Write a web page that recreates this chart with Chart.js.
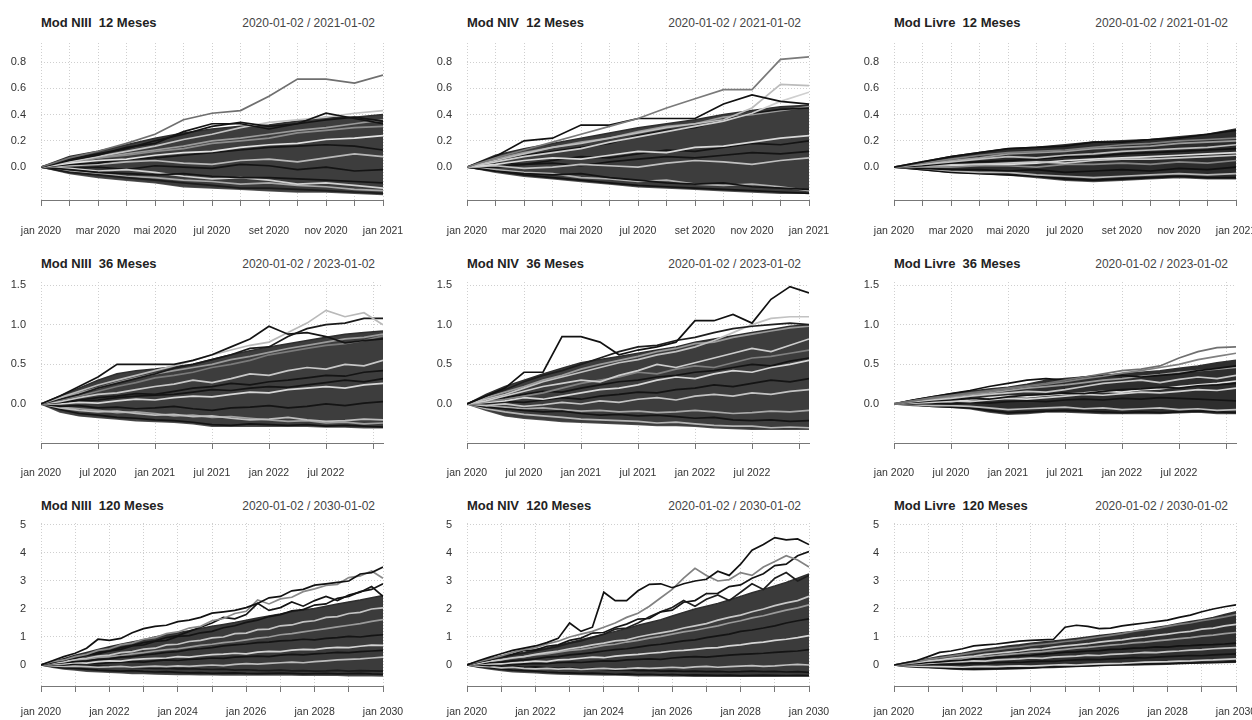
<!DOCTYPE html>
<html lang="pt">
<head>
<meta charset="utf-8">
<title>Simulações</title>
<script src="https://cdn.jsdelivr.net/npm/chart.js@4/dist/chart.umd.min.js"></script>
<style>
  html, body { margin: 0; padding: 0; background: #fff; overflow: hidden; }
  body { width: 1252px; height: 720px; position: relative; font-family: "Liberation Sans", Arial, sans-serif; }
  .panel-title { position: absolute; font-weight: bold; font-size: 13px; color: #222; line-height: 16px; white-space: pre; }
  .panel-range { position: absolute; font-size: 12px; color: #444; line-height: 16px; text-align: right; white-space: pre; }
  canvas { position: absolute; }
</style>
</head>
<body>
<script>
// x positions (months since jan 2020) and axis ticks
const months12 = [0, 1, 2, 3, 4, 5, 6, 7, 8, 9, 10, 11, 12];
const months36 = [0, 2, 4, 6, 8, 10, 12, 14, 16, 18, 20, 22, 24, 26, 28, 30, 32, 34, 36];
const months120 = [0, 4, 8, 12, 16, 20, 24, 28, 32, 36, 40, 44, 48, 52, 56, 60, 64, 68, 72, 76, 80, 84, 88, 92, 96, 100, 104, 108, 112, 116, 120];

const xTicks12 = [0, 1, 2, 3, 4, 5, 6, 7, 8, 9, 10, 11, 12];
const xLabels12 = ['jan 2020', '', 'mar 2020', '', 'mai 2020', '', 'jul 2020', '', 'set 2020', '', 'nov 2020', '', 'jan 2021'];
const xTicks36 = [0, 6, 12, 18, 24, 30, 35];
const xLabels36 = ['jan 2020', 'jul 2020', 'jan 2021', 'jul 2021', 'jan 2022', 'jul 2022', ''];
const xTicks120 = [0, 12, 24, 36, 48, 60, 72, 84, 96, 108, 120];
const xLabels120 = ['jan 2020', '', 'jan 2022', '', 'jan 2024', '', 'jan 2026', '', 'jan 2028', '', 'jan 2030'];

const yTicks12 = [0, 0.2, 0.4, 0.6, 0.8];
const yTicks36 = [0, 0.5, 1, 1.5];
const yTicks120 = [0, 1, 2, 3, 4, 5];

// ---- 12 meses ----
const niii12Hi = [0, 0.08, 0.12, 0.17, 0.22, 0.26, 0.29, 0.31, 0.32, 0.35, 0.38, 0.38, 0.40];
const niii12Lo = [0, -0.05, -0.08, -0.10, -0.12, -0.15, -0.16, -0.17, -0.18, -0.19, -0.19, -0.20, -0.21];
const niii12Paths = [
  [0, 0.07, 0.12, 0.18, 0.25, 0.36, 0.41, 0.43, 0.54, 0.67, 0.67, 0.64, 0.70],
  [0, 0.06, 0.10, 0.14, 0.20, 0.25, 0.31, 0.34, 0.31, 0.33, 0.41, 0.37, 0.33],
  [0, 0.05, 0.09, 0.15, 0.18, 0.27, 0.33, 0.33, 0.29, 0.33, 0.36, 0.38, 0.35],
  [0, 0.04, 0.08, 0.12, 0.16, 0.21, 0.25, 0.30, 0.34, 0.36, 0.38, 0.41, 0.43],
  [0, 0.03, 0.05, 0.06, 0.09, 0.11, 0.12, 0.15, 0.17, 0.18, 0.21, 0.22, 0.24],
  [0, 0.02, 0.03, 0.06, 0.07, 0.09, 0.11, 0.13, 0.15, 0.16, 0.17, 0.16, 0.13],
  [0, 0.01, 0.02, 0.04, 0.05, 0.03, 0.02, 0.05, 0.06, 0.04, 0.07, 0.10, 0.08],
  [0, -0.02, -0.04, -0.05, -0.06, -0.05, -0.07, -0.08, -0.08, -0.09, -0.10, -0.11, -0.12],
  [0, -0.01, -0.03, -0.02, -0.04, -0.07, -0.09, -0.08, -0.10, -0.13, -0.12, -0.14, -0.16],
  [0, -0.04, -0.06, -0.08, -0.10, -0.12, -0.14, -0.16, -0.16, -0.17, -0.18, -0.19, -0.20],
  [0, 0.03, 0.07, 0.09, 0.12, 0.14, 0.18, 0.20, 0.22, 0.26, 0.28, 0.30, 0.31],
  [0, 0.04, 0.07, 0.10, 0.13, 0.16, 0.20, 0.22, 0.25, 0.28, 0.30, 0.33, 0.36],
  [0, -0.01, 0.00, -0.02, 0.01, 0.00, -0.01, 0.02, 0.01, -0.02, 0.00, -0.03, -0.02],
  [0, -0.03, -0.05, -0.07, -0.08, -0.10, -0.11, -0.13, -0.12, -0.14, -0.15, -0.17, -0.18]
];

const niv12Hi = [0, 0.09, 0.14, 0.18, 0.22, 0.26, 0.30, 0.33, 0.36, 0.40, 0.43, 0.46, 0.47];
const niv12Lo = [0, -0.04, -0.07, -0.09, -0.11, -0.13, -0.15, -0.16, -0.17, -0.18, -0.19, -0.20, -0.20];
const niv12Paths = [
  [0, 0.07, 0.13, 0.19, 0.25, 0.31, 0.37, 0.45, 0.52, 0.59, 0.59, 0.82, 0.84],
  [0, 0.08, 0.20, 0.22, 0.32, 0.32, 0.37, 0.37, 0.37, 0.48, 0.55, 0.50, 0.48],
  [0, 0.05, 0.10, 0.15, 0.18, 0.22, 0.26, 0.30, 0.33, 0.36, 0.45, 0.63, 0.62],
  [0, 0.04, 0.08, 0.11, 0.14, 0.19, 0.23, 0.27, 0.31, 0.35, 0.41, 0.50, 0.57],
  [0, 0.05, 0.09, 0.12, 0.15, 0.18, 0.24, 0.28, 0.30, 0.36, 0.41, 0.44, 0.45],
  [0, 0.02, 0.05, 0.07, 0.06, 0.09, 0.12, 0.11, 0.15, 0.16, 0.19, 0.22, 0.24],
  [0, 0.03, 0.02, 0.05, 0.08, 0.07, 0.10, 0.13, 0.12, 0.15, 0.18, 0.17, 0.20],
  [0, 0.01, -0.01, 0.00, 0.02, 0.01, 0.00, 0.03, 0.05, 0.04, 0.02, 0.05, 0.07],
  [0, -0.03, -0.05, -0.06, -0.05, -0.08, -0.10, -0.12, -0.13, -0.12, -0.15, -0.16, -0.17],
  [0, -0.02, -0.04, -0.05, -0.08, -0.09, -0.11, -0.10, -0.13, -0.14, -0.13, -0.15, -0.18],
  [0, 0.06, 0.11, 0.15, 0.19, 0.22, 0.27, 0.31, 0.33, 0.38, 0.40, 0.43, 0.46],
  [0, 0.00, 0.02, 0.03, 0.01, 0.04, 0.06, 0.08, 0.07, 0.09, 0.11, 0.10, 0.12],
  [0, -0.03, -0.06, -0.08, -0.10, -0.12, -0.14, -0.15, -0.16, -0.17, -0.18, -0.19, -0.20]
];

const livre12Hi = [0, 0.04, 0.08, 0.11, 0.14, 0.15, 0.17, 0.19, 0.20, 0.21, 0.23, 0.25, 0.29];
const livre12Lo = [0, -0.02, -0.04, -0.05, -0.06, -0.08, -0.10, -0.11, -0.10, -0.09, -0.08, -0.09, -0.09];
const livre12Paths = [
  [0, 0.04, 0.08, 0.11, 0.14, 0.15, 0.16, 0.19, 0.19, 0.21, 0.22, 0.25, 0.28],
  [0, 0.03, 0.06, 0.09, 0.11, 0.12, 0.13, 0.15, 0.17, 0.18, 0.20, 0.21, 0.22],
  [0, 0.02, 0.04, 0.06, 0.08, 0.07, 0.09, 0.10, 0.12, 0.13, 0.14, 0.15, 0.17],
  [0, 0.01, 0.03, 0.04, 0.05, 0.06, 0.08, 0.08, 0.10, 0.11, 0.12, 0.13, 0.14],
  [0, 0.01, 0.02, 0.02, 0.03, 0.04, 0.03, 0.05, 0.06, 0.06, 0.07, 0.08, 0.09],
  [0, 0.00, 0.00, 0.01, 0.01, 0.00, 0.02, 0.02, 0.03, 0.02, 0.04, 0.03, 0.05],
  [0, -0.01, -0.02, -0.02, -0.03, -0.02, -0.04, -0.03, -0.02, -0.03, -0.01, -0.02, 0.00],
  [0, -0.01, -0.03, -0.04, -0.04, -0.06, -0.07, -0.08, -0.07, -0.06, -0.05, -0.06, -0.05],
  [0, -0.02, -0.04, -0.05, -0.06, -0.07, -0.09, -0.10, -0.09, -0.08, -0.07, -0.08, -0.08],
  [0, 0.02, 0.05, 0.07, 0.10, 0.11, 0.12, 0.14, 0.15, 0.16, 0.18, 0.19, 0.20],
  [0, 0.00, 0.01, 0.02, 0.02, 0.03, 0.05, 0.06, 0.07, 0.08, 0.09, 0.10, 0.11]
];

// ---- 36 meses ----
const niii36Hi = [0, 0.10, 0.20, 0.30, 0.38, 0.42, 0.44, 0.47, 0.50, 0.56, 0.62, 0.67, 0.72, 0.76, 0.80, 0.84, 0.88, 0.90, 0.92];
const niii36Lo = [0, -0.10, -0.15, -0.17, -0.19, -0.21, -0.22, -0.23, -0.25, -0.28, -0.28, -0.28, -0.28, -0.28, -0.28, -0.29, -0.29, -0.30, -0.30];
const niii36Paths = [
  [0, 0.10, 0.22, 0.34, 0.50, 0.50, 0.50, 0.50, 0.55, 0.62, 0.72, 0.82, 0.98, 0.88, 0.90, 0.85, 0.77, 0.80, 0.82],
  [0, 0.08, 0.16, 0.24, 0.30, 0.36, 0.42, 0.48, 0.55, 0.62, 0.68, 0.74, 0.78, 0.90, 1.02, 1.18, 1.10, 1.15, 1.00],
  [0, 0.06, 0.12, 0.20, 0.26, 0.32, 0.38, 0.45, 0.50, 0.56, 0.62, 0.70, 0.72, 0.85, 0.95, 1.00, 1.02, 1.08, 1.08],
  [0, 0.05, 0.10, 0.16, 0.22, 0.27, 0.33, 0.36, 0.40, 0.46, 0.50, 0.55, 0.62, 0.66, 0.70, 0.74, 0.76, 0.80, 0.86],
  [0, 0.03, 0.08, 0.12, 0.14, 0.18, 0.22, 0.25, 0.30, 0.27, 0.32, 0.38, 0.36, 0.42, 0.46, 0.44, 0.50, 0.48, 0.55],
  [0, 0.02, 0.05, 0.08, 0.10, 0.13, 0.12, 0.16, 0.20, 0.22, 0.26, 0.24, 0.28, 0.30, 0.33, 0.36, 0.35, 0.40, 0.42],
  [0, 0.00, 0.02, 0.01, 0.04, 0.06, 0.05, 0.08, 0.10, 0.09, 0.12, 0.15, 0.14, 0.18, 0.20, 0.22, 0.20, 0.24, 0.26],
  [0, -0.03, -0.02, -0.05, -0.04, -0.06, -0.05, -0.03, -0.06, -0.08, -0.05, -0.04, -0.02, -0.05, -0.03, 0.00, -0.02, 0.01, 0.03],
  [0, -0.05, -0.08, -0.10, -0.09, -0.12, -0.14, -0.13, -0.16, -0.15, -0.18, -0.20, -0.19, -0.17, -0.20, -0.22, -0.21, -0.19, -0.20],
  [0, -0.07, -0.12, -0.14, -0.17, -0.18, -0.20, -0.21, -0.23, -0.26, -0.27, -0.25, -0.26, -0.27, -0.26, -0.28, -0.27, -0.28, -0.29],
  [0, 0.07, 0.14, 0.20, 0.27, 0.33, 0.38, 0.42, 0.46, 0.50, 0.56, 0.60, 0.65, 0.70, 0.74, 0.78, 0.82, 0.84, 0.88],
  [0, 0.01, 0.04, 0.05, 0.08, 0.10, 0.11, 0.12, 0.15, 0.18, 0.17, 0.20, 0.22, 0.21, 0.24, 0.27, 0.30, 0.28, 0.32],
  [0, -0.04, -0.06, -0.08, -0.11, -0.10, -0.12, -0.15, -0.14, -0.17, -0.16, -0.18, -0.20, -0.22, -0.21, -0.24, -0.23, -0.25, -0.24]
];

const niv36Hi = [0, 0.12, 0.22, 0.30, 0.38, 0.45, 0.52, 0.56, 0.60, 0.64, 0.68, 0.72, 0.78, 0.82, 0.86, 0.90, 0.94, 0.98, 1.00];
const niv36Lo = [0, -0.08, -0.15, -0.18, -0.20, -0.22, -0.23, -0.24, -0.25, -0.26, -0.27, -0.27, -0.28, -0.30, -0.31, -0.32, -0.32, -0.32, -0.32];
const niv36Paths = [
  [0, 0.10, 0.20, 0.40, 0.40, 0.85, 0.85, 0.78, 0.62, 0.68, 0.72, 0.78, 1.05, 1.05, 1.13, 1.02, 1.32, 1.48, 1.40],
  [0, 0.10, 0.18, 0.28, 0.36, 0.42, 0.50, 0.58, 0.66, 0.72, 0.74, 0.80, 0.84, 0.90, 0.95, 0.98, 1.00, 1.02, 1.00],
  [0, 0.06, 0.12, 0.20, 0.28, 0.34, 0.40, 0.46, 0.52, 0.56, 0.62, 0.66, 0.72, 0.80, 0.90, 1.00, 1.08, 1.10, 1.10],
  [0, 0.04, 0.10, 0.16, 0.22, 0.26, 0.30, 0.28, 0.36, 0.42, 0.50, 0.46, 0.52, 0.58, 0.64, 0.70, 0.66, 0.74, 0.82],
  [0, 0.03, 0.06, 0.10, 0.14, 0.20, 0.26, 0.30, 0.34, 0.40, 0.38, 0.44, 0.48, 0.46, 0.52, 0.58, 0.60, 0.64, 0.68],
  [0, 0.02, 0.04, 0.08, 0.06, 0.10, 0.14, 0.18, 0.20, 0.24, 0.30, 0.34, 0.32, 0.38, 0.42, 0.40, 0.46, 0.50, 0.55],
  [0, 0.01, 0.03, 0.02, 0.05, 0.08, 0.06, 0.10, 0.12, 0.15, 0.14, 0.18, 0.20, 0.24, 0.22, 0.26, 0.30, 0.28, 0.32],
  [0, -0.02, 0.00, -0.03, -0.01, 0.02, 0.00, 0.04, 0.02, 0.06, 0.08, 0.05, 0.10, 0.12, 0.10, 0.14, 0.12, 0.16, 0.18],
  [0, -0.04, -0.06, -0.08, -0.10, -0.09, -0.12, -0.14, -0.13, -0.15, -0.14, -0.16, -0.18, -0.17, -0.20, -0.21, -0.20, -0.22, -0.21],
  [0, -0.06, -0.10, -0.13, -0.15, -0.17, -0.19, -0.20, -0.21, -0.22, -0.24, -0.23, -0.25, -0.27, -0.28, -0.28, -0.30, -0.29, -0.30],
  [0, 0.08, 0.15, 0.22, 0.30, 0.36, 0.44, 0.50, 0.55, 0.60, 0.66, 0.70, 0.76, 0.78, 0.84, 0.88, 0.92, 0.96, 0.98],
  [0, 0.04, 0.08, 0.12, 0.16, 0.15, 0.20, 0.24, 0.28, 0.30, 0.34, 0.36, 0.40, 0.42, 0.46, 0.50, 0.48, 0.54, 0.58],
  [0, -0.03, -0.04, -0.06, -0.05, -0.07, -0.09, -0.08, -0.10, -0.09, -0.11, -0.10, -0.08, -0.10, -0.12, -0.11, -0.09, -0.10, -0.08]
];

const livre36Hi = [0, 0.05, 0.09, 0.13, 0.16, 0.19, 0.21, 0.25, 0.30, 0.32, 0.34, 0.36, 0.38, 0.40, 0.42, 0.45, 0.48, 0.52, 0.55];
const livre36Lo = [0, -0.02, -0.03, -0.04, -0.06, -0.10, -0.13, -0.12, -0.10, -0.10, -0.11, -0.12, -0.12, -0.12, -0.12, -0.11, -0.10, -0.12, -0.12];
const livre36Paths = [
  [0, 0.04, 0.08, 0.11, 0.14, 0.17, 0.20, 0.23, 0.26, 0.30, 0.34, 0.38, 0.42, 0.44, 0.48, 0.58, 0.66, 0.71, 0.72],
  [0, 0.04, 0.07, 0.10, 0.13, 0.16, 0.19, 0.22, 0.25, 0.28, 0.32, 0.35, 0.39, 0.42, 0.46, 0.50, 0.56, 0.60, 0.64],
  [0, 0.05, 0.09, 0.13, 0.17, 0.22, 0.26, 0.30, 0.32, 0.30, 0.34, 0.36, 0.36, 0.34, 0.36, 0.38, 0.42, 0.45, 0.48],
  [0, 0.03, 0.05, 0.07, 0.10, 0.12, 0.14, 0.16, 0.15, 0.18, 0.22, 0.26, 0.28, 0.30, 0.27, 0.31, 0.34, 0.32, 0.36],
  [0, 0.02, 0.04, 0.05, 0.07, 0.06, 0.09, 0.11, 0.12, 0.14, 0.13, 0.16, 0.18, 0.19, 0.21, 0.20, 0.23, 0.24, 0.26],
  [0, 0.01, 0.02, 0.04, 0.03, 0.05, 0.07, 0.06, 0.08, 0.10, 0.12, 0.11, 0.13, 0.15, 0.14, 0.16, 0.18, 0.17, 0.20],
  [0, 0.00, 0.01, 0.00, 0.02, 0.01, 0.03, 0.04, 0.03, 0.05, 0.06, 0.05, 0.07, 0.06, 0.08, 0.07, 0.06, 0.05, 0.04],
  [0, -0.01, -0.02, -0.02, -0.03, -0.05, -0.07, -0.06, -0.05, -0.04, -0.06, -0.05, -0.07, -0.06, -0.05, -0.07, -0.06, -0.08, -0.07],
  [0, -0.01, -0.03, -0.04, -0.05, -0.08, -0.11, -0.10, -0.09, -0.08, -0.09, -0.10, -0.11, -0.10, -0.11, -0.10, -0.09, -0.10, -0.11],
  [0, 0.03, 0.06, 0.09, 0.12, 0.14, 0.17, 0.20, 0.22, 0.24, 0.27, 0.30, 0.32, 0.35, 0.37, 0.40, 0.42, 0.44, 0.46],
  [0, 0.01, 0.03, 0.03, 0.05, 0.08, 0.10, 0.09, 0.11, 0.13, 0.14, 0.16, 0.15, 0.18, 0.19, 0.22, 0.24, 0.26, 0.29]
];

// ---- 120 meses ----
const niii120Hi = [0, 0.12, 0.22, 0.35, 0.45, 0.55, 0.65, 0.74, 0.82, 0.90, 1.00, 1.08, 1.15, 1.22, 1.30, 1.38, 1.45, 1.52, 1.60, 1.68, 1.75, 1.82, 1.90, 1.96, 2.02, 2.10, 2.18, 2.25, 2.32, 2.40, 2.48];
const niii120Lo = [0, -0.08, -0.14, -0.18, -0.22, -0.24, -0.26, -0.28, -0.30, -0.30, -0.32, -0.33, -0.34, -0.34, -0.35, -0.35, -0.36, -0.36, -0.35, -0.36, -0.36, -0.35, -0.36, -0.37, -0.36, -0.37, -0.37, -0.38, -0.38, -0.38, -0.39];
const niii120Paths = [
  [0, 0.15, 0.30, 0.42, 0.60, 0.92, 0.88, 0.95, 1.15, 1.30, 1.38, 1.42, 1.55, 1.60, 1.70, 1.85, 1.90, 1.95, 2.05, 2.20, 2.40, 2.45, 2.65, 2.70, 2.85, 2.90, 2.95, 3.00, 3.25, 3.30, 3.50],
  [0, 0.12, 0.18, 0.30, 0.38, 0.52, 0.58, 0.72, 0.78, 0.92, 0.98, 1.12, 1.18, 1.32, 1.38, 1.58, 1.66, 1.84, 1.92, 2.32, 2.18, 2.36, 2.42, 2.62, 2.72, 2.84, 2.88, 3.12, 3.18, 3.36, 3.10],
  [0, 0.10, 0.16, 0.28, 0.34, 0.45, 0.50, 0.62, 0.70, 0.80, 0.86, 0.98, 1.05, 1.20, 1.35, 1.50, 1.70, 1.65, 1.80, 2.20, 1.95, 2.05, 2.25, 2.10, 2.30, 2.45, 2.30, 2.50, 2.60, 2.80, 2.45],
  [0, 0.08, 0.20, 0.24, 0.36, 0.40, 0.50, 0.56, 0.68, 0.72, 0.84, 0.88, 1.02, 1.05, 1.15, 1.20, 1.33, 1.40, 1.52, 1.60, 1.73, 1.80, 1.93, 1.98, 2.14, 2.18, 2.38, 2.45, 2.62, 2.70, 2.90],
  [0, 0.07, 0.11, 0.20, 0.24, 0.32, 0.35, 0.44, 0.48, 0.57, 0.60, 0.72, 0.74, 0.84, 0.88, 0.97, 1.00, 1.12, 1.14, 1.26, 1.28, 1.40, 1.43, 1.54, 1.58, 1.70, 1.73, 1.84, 1.88, 2.00, 2.04],
  [0, 0.05, 0.08, 0.12, 0.15, 0.20, 0.22, 0.28, 0.30, 0.36, 0.40, 0.45, 0.48, 0.55, 0.58, 0.62, 0.68, 0.72, 0.75, 0.80, 0.82, 0.86, 0.88, 0.92, 0.90, 0.95, 0.98, 1.02, 1.00, 1.05, 1.08],
  [0, 0.03, 0.04, 0.08, 0.07, 0.12, 0.15, 0.14, 0.19, 0.22, 0.24, 0.25, 0.30, 0.28, 0.33, 0.37, 0.39, 0.42, 0.40, 0.46, 0.49, 0.48, 0.53, 0.56, 0.55, 0.60, 0.63, 0.62, 0.67, 0.71, 0.70],
  [0, 0.02, 0.00, 0.04, 0.06, 0.05, 0.08, 0.10, 0.12, 0.10, 0.15, 0.18, 0.16, 0.20, 0.22, 0.25, 0.24, 0.28, 0.30, 0.32, 0.30, 0.35, 0.38, 0.36, 0.40, 0.42, 0.45, 0.44, 0.48, 0.50, 0.52],
  [0, -0.03, -0.05, -0.04, -0.06, -0.08, -0.07, -0.05, -0.08, -0.06, -0.04, -0.06, -0.03, -0.05, -0.02, 0.00, -0.02, 0.02, 0.05, 0.03, 0.06, 0.08, 0.10, 0.08, 0.12, 0.15, 0.18, 0.20, 0.22, 0.25, 0.28],
  [0, -0.05, -0.10, -0.12, -0.15, -0.18, -0.20, -0.22, -0.20, -0.23, -0.25, -0.24, -0.26, -0.28, -0.27, -0.30, -0.29, -0.28, -0.30, -0.31, -0.30, -0.29, -0.30, -0.32, -0.31, -0.30, -0.32, -0.31, -0.30, -0.32, -0.33],
  [0, 0.06, 0.10, 0.16, 0.20, 0.26, 0.30, 0.34, 0.40, 0.44, 0.50, 0.55, 0.58, 0.64, 0.70, 0.74, 0.80, 0.84, 0.90, 0.96, 1.00, 1.08, 1.12, 1.18, 1.24, 1.30, 1.36, 1.42, 1.48, 1.56, 1.62],
  [0, 0.01, -0.02, -0.01, -0.04, -0.03, -0.06, -0.05, -0.08, -0.10, -0.12, -0.11, -0.14, -0.13, -0.15, -0.16, -0.15, -0.18, -0.17, -0.19, -0.20, -0.18, -0.21, -0.20, -0.22, -0.21, -0.19, -0.22, -0.20, -0.21, -0.22]
];

const niv120Hi = [0, 0.12, 0.22, 0.30, 0.38, 0.45, 0.55, 0.62, 0.70, 0.80, 0.90, 1.00, 1.10, 1.20, 1.30, 1.42, 1.52, 1.62, 1.75, 1.88, 2.00, 2.10, 2.20, 2.32, 2.45, 2.58, 2.70, 2.82, 2.95, 3.10, 3.25];
const niv120Lo = [0, -0.08, -0.14, -0.20, -0.24, -0.26, -0.28, -0.30, -0.32, -0.33, -0.34, -0.35, -0.36, -0.36, -0.37, -0.38, -0.38, -0.38, -0.39, -0.39, -0.40, -0.40, -0.40, -0.40, -0.40, -0.40, -0.40, -0.40, -0.39, -0.39, -0.39];
const niv120Paths = [
  [0, 0.15, 0.28, 0.40, 0.52, 0.60, 0.68, 0.80, 0.95, 1.50, 1.20, 1.35, 2.60, 2.30, 2.30, 2.65, 2.88, 2.90, 2.76, 2.90, 3.00, 3.06, 3.35, 3.20, 3.60, 4.10, 4.30, 4.55, 4.47, 4.50, 4.30],
  [0, 0.12, 0.22, 0.32, 0.45, 0.55, 0.62, 0.75, 0.85, 1.00, 1.10, 1.20, 1.35, 1.50, 1.70, 1.85, 2.10, 2.40, 2.70, 3.10, 3.45, 3.20, 3.00, 3.05, 3.30, 3.20, 3.50, 3.70, 3.90, 3.75, 3.50],
  [0, 0.11, 0.18, 0.32, 0.38, 0.52, 0.53, 0.67, 0.72, 0.88, 0.96, 1.14, 1.16, 1.34, 1.46, 1.64, 1.66, 1.90, 1.96, 2.24, 2.30, 2.55, 2.56, 2.80, 2.86, 3.10, 3.26, 3.55, 3.60, 3.90, 4.05],
  [0, 0.10, 0.20, 0.26, 0.36, 0.42, 0.50, 0.58, 0.66, 0.78, 0.86, 0.98, 1.10, 1.28, 1.32, 1.50, 1.72, 1.90, 2.05, 2.30, 2.10, 2.35, 2.50, 2.30, 2.60, 2.90, 2.70, 3.10, 3.30, 3.00, 3.20],
  [0, 0.06, 0.14, 0.18, 0.26, 0.30, 0.38, 0.44, 0.50, 0.58, 0.64, 0.72, 0.78, 0.86, 0.90, 1.00, 1.08, 1.15, 1.22, 1.32, 1.40, 1.48, 1.60, 1.70, 1.78, 1.90, 2.00, 2.12, 2.22, 2.30, 2.45],
  [0, 0.04, 0.08, 0.10, 0.15, 0.18, 0.22, 0.28, 0.30, 0.36, 0.40, 0.44, 0.50, 0.55, 0.58, 0.64, 0.70, 0.74, 0.80, 0.86, 0.90, 0.98, 1.04, 1.10, 1.20, 1.25, 1.32, 1.40, 1.50, 1.58, 1.65],
  [0, 0.02, 0.05, 0.04, 0.08, 0.10, 0.14, 0.12, 0.18, 0.20, 0.24, 0.28, 0.26, 0.32, 0.35, 0.38, 0.42, 0.45, 0.50, 0.52, 0.56, 0.60, 0.62, 0.68, 0.72, 0.78, 0.82, 0.88, 0.92, 0.98, 1.05],
  [0, 0.00, -0.02, 0.02, 0.00, 0.04, 0.06, 0.05, 0.08, 0.10, 0.09, 0.12, 0.15, 0.14, 0.18, 0.20, 0.22, 0.20, 0.25, 0.28, 0.30, 0.28, 0.32, 0.35, 0.38, 0.40, 0.42, 0.45, 0.48, 0.50, 0.55],
  [0, -0.04, -0.06, -0.10, -0.08, -0.12, -0.14, -0.12, -0.15, -0.13, -0.16, -0.14, -0.12, -0.15, -0.13, -0.10, -0.12, -0.10, -0.08, -0.10, -0.07, -0.05, -0.08, -0.06, -0.04, -0.02, -0.05, -0.03, 0.00, 0.02, 0.00],
  [0, -0.06, -0.10, -0.15, -0.18, -0.20, -0.22, -0.25, -0.27, -0.28, -0.30, -0.29, -0.31, -0.33, -0.32, -0.34, -0.33, -0.35, -0.34, -0.36, -0.35, -0.36, -0.37, -0.36, -0.38, -0.37, -0.36, -0.37, -0.38, -0.37, -0.38],
  [0, 0.08, 0.12, 0.20, 0.24, 0.30, 0.36, 0.40, 0.46, 0.52, 0.56, 0.62, 0.70, 0.74, 0.82, 0.88, 0.96, 1.02, 1.10, 1.18, 1.24, 1.32, 1.40, 1.50, 1.58, 1.68, 1.76, 1.86, 1.96, 2.04, 2.15],
  [0, -0.02, -0.04, -0.06, -0.05, -0.08, -0.07, -0.10, -0.12, -0.11, -0.14, -0.13, -0.16, -0.18, -0.17, -0.20, -0.19, -0.22, -0.21, -0.23, -0.22, -0.24, -0.23, -0.25, -0.24, -0.22, -0.24, -0.23, -0.25, -0.24, -0.26]
];

const livre120Hi = [0, 0.08, 0.14, 0.22, 0.30, 0.36, 0.42, 0.50, 0.56, 0.62, 0.68, 0.72, 0.78, 0.82, 0.86, 0.90, 0.95, 1.00, 1.05, 1.10, 1.15, 1.20, 1.27, 1.34, 1.40, 1.48, 1.55, 1.62, 1.70, 1.80, 1.90];
const livre120Lo = [0, -0.05, -0.08, -0.10, -0.12, -0.14, -0.16, -0.17, -0.16, -0.15, -0.14, -0.13, -0.12, -0.10, -0.09, -0.07, -0.05, -0.04, -0.02, -0.01, 0.00, 0.00, 0.01, 0.02, 0.03, 0.05, 0.06, 0.07, 0.08, 0.09, 0.10];
const livre120Paths = [
  [0, 0.08, 0.16, 0.30, 0.45, 0.50, 0.58, 0.68, 0.72, 0.75, 0.80, 0.85, 0.88, 0.90, 0.92, 1.35, 1.42, 1.38, 1.30, 1.32, 1.40, 1.45, 1.50, 1.55, 1.60, 1.70, 1.78, 1.90, 2.00, 2.08, 2.15],
  [0, 0.06, 0.12, 0.20, 0.26, 0.32, 0.38, 0.44, 0.50, 0.55, 0.60, 0.64, 0.70, 0.74, 0.78, 0.84, 0.88, 0.94, 1.00, 1.06, 1.12, 1.20, 1.26, 1.30, 1.38, 1.45, 1.50, 1.58, 1.65, 1.72, 1.80],
  [0, 0.05, 0.09, 0.15, 0.18, 0.24, 0.28, 0.32, 0.38, 0.42, 0.46, 0.50, 0.56, 0.58, 0.64, 0.68, 0.72, 0.76, 0.82, 0.86, 0.90, 0.96, 1.00, 1.06, 1.10, 1.16, 1.20, 1.28, 1.32, 1.40, 1.45],
  [0, 0.03, 0.05, 0.09, 0.11, 0.15, 0.17, 0.22, 0.23, 0.27, 0.29, 0.33, 0.34, 0.39, 0.41, 0.46, 0.47, 0.50, 0.51, 0.56, 0.57, 0.60, 0.61, 0.65, 0.64, 0.68, 0.69, 0.72, 0.73, 0.75, 0.78],
  [0, 0.02, 0.03, 0.06, 0.08, 0.10, 0.12, 0.15, 0.14, 0.18, 0.20, 0.22, 0.25, 0.24, 0.28, 0.30, 0.32, 0.35, 0.34, 0.38, 0.40, 0.42, 0.45, 0.44, 0.48, 0.50, 0.53, 0.55, 0.58, 0.60, 0.62],
  [0, 0.00, 0.02, 0.01, 0.03, 0.02, 0.04, 0.06, 0.05, 0.08, 0.10, 0.09, 0.12, 0.14, 0.13, 0.16, 0.18, 0.20, 0.19, 0.22, 0.24, 0.26, 0.25, 0.28, 0.30, 0.32, 0.34, 0.33, 0.36, 0.38, 0.40],
  [0, -0.02, -0.04, -0.05, -0.06, -0.07, -0.08, -0.06, -0.05, -0.06, -0.04, -0.03, -0.04, -0.02, 0.00, 0.01, 0.00, 0.02, 0.04, 0.05, 0.06, 0.08, 0.10, 0.11, 0.12, 0.14, 0.15, 0.17, 0.18, 0.20, 0.22],
  [0, -0.04, -0.06, -0.08, -0.10, -0.12, -0.14, -0.15, -0.14, -0.13, -0.12, -0.11, -0.10, -0.08, -0.07, -0.05, -0.04, -0.03, -0.01, 0.00, 0.01, 0.02, 0.03, 0.04, 0.05, 0.06, 0.07, 0.08, 0.09, 0.10, 0.12],
  [0, 0.04, 0.07, 0.12, 0.15, 0.19, 0.22, 0.27, 0.30, 0.34, 0.38, 0.41, 0.45, 0.48, 0.52, 0.56, 0.60, 0.63, 0.67, 0.71, 0.74, 0.79, 0.82, 0.86, 0.90, 0.94, 0.98, 1.03, 1.07, 1.12, 1.16]
];

// layout of the 3x3 grid (pixel geometry of each plot area)
const colLeft = [41, 467, 894];
const plotWidth = 342;
const rows = [
  { top: 43, bottom: 200, titleY: 23, yMin: -0.251, yMax: 0.945, yTicks: yTicks12, digits: 1, xMax: 12, xTicks: xTicks12, xLabels: xLabels12, labelPad: 19 },
  { top: 282, bottom: 443, titleY: 264, yMin: -0.492, yMax: 1.538, yTicks: yTicks36, digits: 1, xMax: 36, xTicks: xTicks36, xLabels: xLabels36, labelPad: 18 },
  { top: 523, bottom: 686, titleY: 506, yMin: -0.75, yMax: 5.071, yTicks: yTicks120, digits: 0, xMax: 120, xTicks: xTicks120, xLabels: xLabels120, labelPad: 14 }
];

const BLK = '#141414';
const MID = '#9a9a9a';
const panels = [
  { title: 'Mod NIII  12 Meses', range: '2020-01-02 / 2021-01-02', row: 0, col: 0, x: months12, hi: niii12Hi, lo: niii12Lo, paths: niii12Paths, band: '#3d3d3d',
    colors: ['#6f6f6f', BLK, BLK, '#c4c4c4', '#e2e2e2', BLK, '#b8b8b8', BLK, '#d0d0d0', '#1c1c1c', '#8c8c8c', MID, BLK, '#a8a8a8'] },
  { title: 'Mod NIV  12 Meses', range: '2020-01-02 / 2021-01-02', row: 0, col: 1, x: months12, hi: niv12Hi, lo: niv12Lo, paths: niv12Paths, band: '#3d3d3d',
    colors: ['#7a7a7a', '#111', '#bcbcbc', '#cfcfcf', BLK, '#d8d8d8', BLK, '#c0c0c0', BLK, '#b0b0b0', MID, BLK, BLK] },
  { title: 'Mod Livre  12 Meses', range: '2020-01-02 / 2021-01-02', row: 0, col: 2, x: months12, hi: livre12Hi, lo: livre12Lo, paths: livre12Paths, band: '#2c2c2c',
    colors: ['#111', '#7c7c7c', '#bdbdbd', '#111', '#c9c9c9', '#858585', '#111', '#b5b5b5', '#111', MID, '#dcdcdc'] },
  { title: 'Mod NIII  36 Meses', range: '2020-01-02 / 2023-01-02', row: 1, col: 0, x: months36, hi: niii36Hi, lo: niii36Lo, paths: niii36Paths, band: '#3d3d3d',
    colors: [BLK, '#b9b9b9', '#1a1a1a', '#7a7a7a', '#c8c8c8', BLK, '#d6d6d6', BLK, '#bdbdbd', BLK, MID, BLK, '#a0a0a0'] },
  { title: 'Mod NIV  36 Meses', range: '2020-01-02 / 2023-01-02', row: 1, col: 1, x: months36, hi: niv36Hi, lo: niv36Lo, paths: niv36Paths, band: '#3d3d3d',
    colors: ['#111', '#1e1e1e', '#c2c2c2', '#cdcdcd', '#808080', '#d6d6d6', BLK, '#c4c4c4', BLK, '#b5b5b5', MID, BLK, '#a8a8a8'] },
  { title: 'Mod Livre  36 Meses', range: '2020-01-02 / 2023-01-02', row: 1, col: 2, x: months36, hi: livre36Hi, lo: livre36Lo, paths: livre36Paths, band: '#2e2e2e',
    colors: ['#707070', '#808080', '#111', '#c6c6c6', BLK, '#d0d0d0', BLK, '#bcbcbc', BLK, MID, '#e0e0e0'] },
  { title: 'Mod NIII  120 Meses', range: '2020-01-02 / 2030-01-02', row: 2, col: 0, x: months120, hi: niii120Hi, lo: niii120Lo, paths: niii120Paths, band: '#3b3b3b',
    colors: ['#111', '#8a8a8a', BLK, BLK, '#c4c4c4', BLK, '#d2d2d2', BLK, '#bcbcbc', BLK, MID, '#1a1a1a'] },
  { title: 'Mod NIV  120 Meses', range: '2020-01-02 / 2030-01-02', row: 2, col: 1, x: months120, hi: niv120Hi, lo: niv120Lo, paths: niv120Paths, band: '#3b3b3b',
    colors: ['#111', '#828282', BLK, '#1e1e1e', '#c8c8c8', BLK, '#d6d6d6', BLK, '#c0c0c0', BLK, MID, BLK] },
  { title: 'Mod Livre  120 Meses', range: '2020-01-02 / 2030-01-02', row: 2, col: 2, x: months120, hi: livre120Hi, lo: livre120Lo, paths: livre120Paths, band: '#303030',
    colors: ['#111', '#7a7a7a', '#cbcbcb', '#111', '#c4c4c4', BLK, '#d0d0d0', BLK, MID] }
];

const PAD_TOP = 8;
const Y_AXIS_W = 41;
const X_AXIS_H = 46;
const PAD_RIGHT = 26;
const tickFont = { family: '"Liberation Sans", Arial, sans-serif', size: 10.5 };

function addText(cls, text, left, top, width) {
  const el = document.createElement('div');
  el.className = cls;
  el.textContent = text;
  el.style.left = left + 'px';
  el.style.top = top + 'px';
  if (width) el.style.width = width + 'px';
  document.body.appendChild(el);
}

function drawPanel(p) {
  const row = rows[p.row];
  const left = colLeft[p.col];
  const W = Y_AXIS_W + plotWidth + PAD_RIGHT;
  const H = PAD_TOP + (row.bottom - row.top) + X_AXIS_H;

  addText('panel-title', p.title, left, row.titleY - 8);
  addText('panel-range', p.range, left, row.titleY - 8, plotWidth - 8);

  const canvas = document.createElement('canvas');
  canvas.width = W;
  canvas.height = H;
  canvas.style.left = (left - Y_AXIS_W) + 'px';
  canvas.style.top = (row.top - PAD_TOP) + 'px';
  canvas.style.width = W + 'px';
  canvas.style.height = H + 'px';
  document.body.appendChild(canvas);

  const pts = (vals) => p.x.map((m, i) => ({ x: m, y: vals[i] }));
  const datasets = p.paths.map((vals, i) => ({
    data: pts(vals),
    borderColor: p.colors[i],
    borderWidth: 1.7,
    pointRadius: 0,
    fill: false
  }));
  // dense mass of simulated paths: band between upper and lower envelope
  datasets.push({ data: pts(p.hi), borderColor: '#2e2e2e', borderWidth: 1.5, backgroundColor: p.band, pointRadius: 0, fill: '+1' });
  datasets.push({ data: pts(p.lo), borderColor: '#555555', borderWidth: 1.5, pointRadius: 0, fill: false });

  new Chart(canvas, {
    type: 'line',
    data: { datasets },
    options: {
      responsive: false,
      animation: false,
      events: [],
      layout: { padding: { top: PAD_TOP, right: PAD_RIGHT, bottom: 0, left: 0 } },
      plugins: { legend: { display: false }, tooltip: { enabled: false } },
      scales: {
        x: {
          type: 'linear',
          min: 0,
          max: row.xMax,
          afterBuildTicks: (s) => { s.ticks = row.xTicks.map((v) => ({ value: v })); },
          afterFit: (s) => { s.height = X_AXIS_H; s.paddingLeft = 0; s.paddingRight = 0; },
          ticks: {
            autoSkip: false,
            maxRotation: 0,
            padding: row.labelPad,
            color: '#333',
            font: tickFont,
            callback: (v, i) => row.xLabels[i]
          },
          grid: { color: '#cfcfcf', lineWidth: 1, drawTicks: true, tickLength: 6, tickColor: '#777', tickWidth: 1, tickBorderDash: [] },
          border: { display: true, color: '#777', width: 1, dash: [1, 2] }
        },
        y: {
          min: row.yMin,
          max: row.yMax,
          afterBuildTicks: (s) => { s.ticks = row.yTicks.map((v) => ({ value: v })); },
          afterFit: (s) => { s.width = Y_AXIS_W; s.paddingTop = 0; s.paddingBottom = 0; },
          ticks: {
            padding: 15,
            color: '#333',
            font: { family: tickFont.family, size: 11 },
            callback: (v) => v.toFixed(row.digits)
          },
          grid: { color: '#cfcfcf', lineWidth: 1, drawTicks: false },
          border: { display: false, dash: [1, 2] }
        }
      }
    }
  });
}

panels.forEach(drawPanel);
</script>
</body>
</html>
